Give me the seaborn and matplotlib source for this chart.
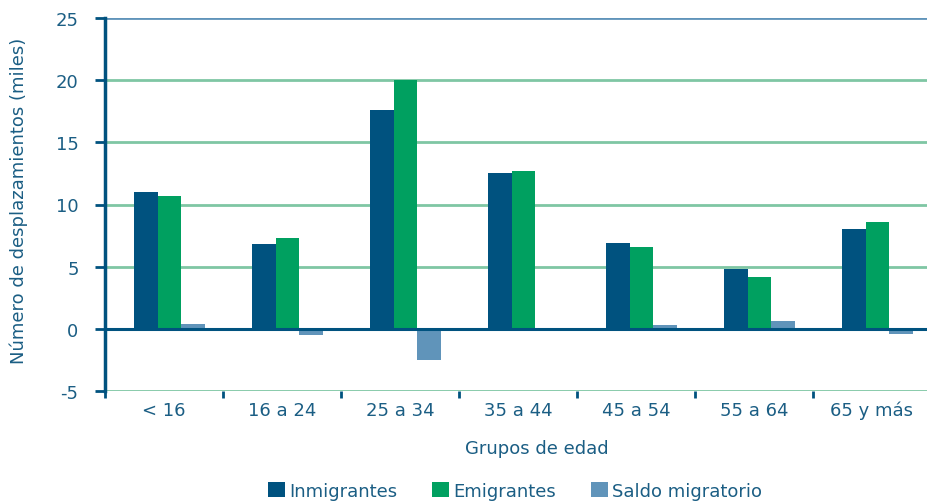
import matplotlib
matplotlib.use("Agg")
import matplotlib.pyplot as plt
from matplotlib.patches import Patch
from matplotlib.ticker import FixedLocator
import seaborn as sns
import pandas as pd

categories = ["< 16", "16 a 24", "25 a 34", "35 a 44", "45 a 54", "55 a 64", "65 y más"]
inmigrantes = [11.0, 6.8, 17.6, 12.5, 6.9, 4.8, 8.0]
emigrantes = [10.7, 7.3, 20.0, 12.7, 6.6, 4.2, 8.6]
saldo = [0.35, -0.5, -2.5, -0.15, 0.3, 0.6, -0.45]
series_names = ["Inmigrantes", "Emigrantes", "Saldo migratorio"]
colors = ["#00527F", "#00A060", "#6094BA"]
text_color = "#1B5E84"
grid_color = "#7FC6A4"

df = pd.DataFrame({
    "grupo": categories * 3,
    "valor": inmigrantes + emigrantes + saldo,
    "serie": [series_names[0]] * 7 + [series_names[1]] * 7 + [series_names[2]] * 7,
})

sns.set_theme(style="white")
plt.rcParams["font.family"] = ["DejaVu Sans"]
plt.rcParams["axes.unicode_minus"] = False

fig = plt.figure(figsize=(9.28, 5.02), dpi=100)
ax = fig.add_axes([105 / 928, 1 - 392 / 502, 826 / 928, 373 / 502])

sns.barplot(data=df, x="grupo", y="valor", hue="serie", palette=colors,
            width=0.6, saturation=1, ax=ax, legend=False, linewidth=0,
            order=categories, hue_order=series_names)
# the original groups sit slightly right of the category centre
for p in ax.patches:
    p.set_x(p.get_x() + 0.045)

ax.set_ylim(-5, 25)
ax.set_xlim(-0.5, 6.5)
ax.set_yticks([-5, 0, 5, 10, 15, 20, 25])
for y in [-5, 5, 10, 15, 20]:
    ax.axhline(y, color=grid_color, lw=2, zorder=0)
ax.axhline(25, color="#6094BA", lw=2, zorder=0)
ax.axhline(0, color="#00527F", lw=2.2, zorder=3)

for s in ["top", "right", "bottom"]:
    ax.spines[s].set_visible(False)
ax.spines["left"].set_color("#00527F")
ax.spines["left"].set_linewidth(2.5)

ax.tick_params(axis="y", which="major", length=7, width=2, color="#00527F",
               labelcolor=text_color, labelsize=13, pad=12, left=True)
ax.tick_params(axis="x", which="major", length=0, labelcolor=text_color,
               labelsize=13, pad=7)
ax.xaxis.set_minor_locator(FixedLocator([i - 0.5 for i in range(8)]))
ax.tick_params(axis="x", which="minor", length=5, width=2, color="#00527F",
               bottom=True)

ax.set_xlabel("Grupos de edad", color=text_color, fontsize=13)
ax.xaxis.set_label_coords(0.523, -0.13)
ax.set_ylabel("Número de desplazamientos (miles)", color=text_color, fontsize=13)
ax.yaxis.set_label_coords(-0.093, 0.513)

handles = [Patch(facecolor=c, edgecolor="none", label=n) for c, n in zip(colors, series_names)]
leg = fig.legend(handles=handles, loc="lower center", bbox_to_anchor=(0.555, -0.03),
                 ncol=3, frameon=False, fontsize=13, handlelength=0.95, handleheight=0.95,
                 handletextpad=0.25, columnspacing=1.9)
for t in leg.get_texts():
    t.set_color(text_color)

fig.savefig("out.png", dpi=100)
